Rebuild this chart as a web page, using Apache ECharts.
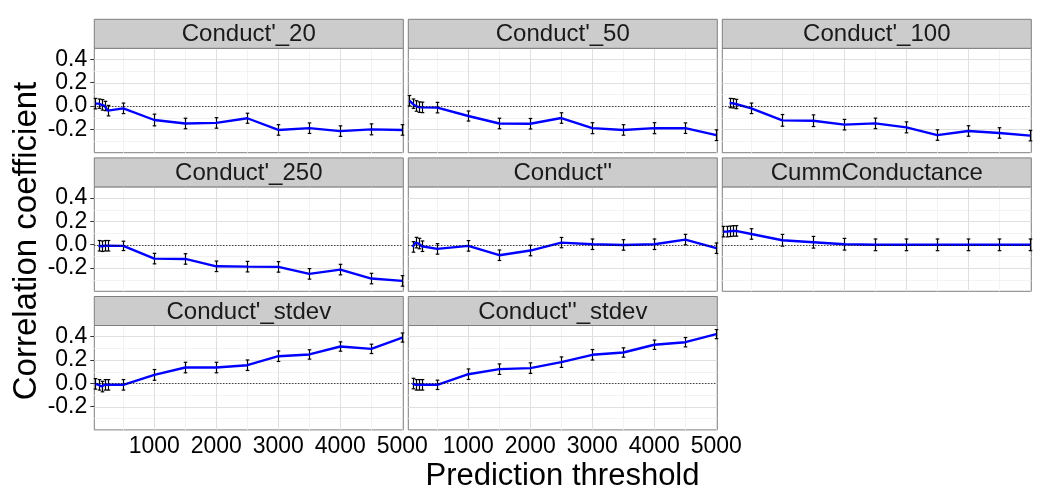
<!DOCTYPE html>
<html><head><meta charset="utf-8">
<script src="https://cdn.jsdelivr.net/npm/echarts@6/dist/echarts.min.js"></script>
<style>html,body{margin:0;padding:0;background:#fff}#c{width:1050px;height:500px}</style>
</head><body><div id="c"></div>
<script>
// ---------------- data ----------------
const thresholds = [50, 100, 150, 200, 250, 500, 1000, 1500, 2000, 2500, 3000, 3500, 4000, 4500, 5000];
const panelNames = ["Conduct'_20", "Conduct'_50", "Conduct'_100", "Conduct'_250", "Conduct''", "CummConductance", "Conduct'_stdev", "Conduct''_stdev"];

const corrC20   = [0.02, 0.02, 0.01, 0.00, -0.04, -0.02, -0.12, -0.15, -0.145, -0.105, -0.205, -0.19, -0.215, -0.20, -0.205];
const errC20    = [0.045, 0.04, 0.045, 0.04, 0.045, 0.045, 0.05, 0.045, 0.045, 0.043, 0.045, 0.045, 0.045, 0.047, 0.045];
const corrC50   = [0.045, 0.02, 0.0, -0.01, -0.012, -0.014, -0.086, -0.15, -0.152, -0.103, -0.19, -0.205, -0.19, -0.19, -0.25];
const errC50    = [0.045, 0.04, 0.045, 0.045, 0.045, 0.045, 0.043, 0.045, 0.045, 0.045, 0.047, 0.045, 0.047, 0.045, 0.046];
const corrC100  = [null, null, 0.025, 0.023, 0.017, -0.02, -0.123, -0.126, -0.16, -0.149, -0.183, -0.249, -0.214, -0.231, -0.254];
const errC100   = [null, null, 0.04, 0.04, 0.04, 0.045, 0.05, 0.05, 0.045, 0.045, 0.047, 0.045, 0.045, 0.045, 0.045];
const corrC250  = [null, -0.01, -0.014, -0.01, -0.01, -0.011, -0.12, -0.123, -0.186, -0.189, -0.191, -0.251, -0.214, -0.291, -0.311];
const errC250   = [null, 0.045, 0.045, 0.045, 0.045, 0.04, 0.045, 0.045, 0.045, 0.045, 0.045, 0.045, 0.045, 0.045, 0.045];
const corrC2    = [null, -0.02, 0.017, 0.009, -0.014, -0.037, -0.011, -0.091, -0.051, 0.017, 0.003, -0.003, 0.003, 0.043, -0.031];
const errC2     = [null, 0.045, 0.045, 0.045, 0.045, 0.045, 0.045, 0.045, 0.045, 0.044, 0.045, 0.045, 0.045, 0.045, 0.045];
const corrCumm  = [0.111, 0.111, 0.114, 0.117, 0.117, 0.091, 0.037, 0.02, 0.003, -0.002, -0.002, -0.002, -0.002, -0.002, -0.002];
const errCumm   = [0.045, 0.045, 0.045, 0.045, 0.045, 0.045, 0.05, 0.05, 0.05, 0.05, 0.05, 0.05, 0.05, 0.05, 0.05];
const corrC1sd  = [-0.006, -0.014, -0.029, -0.014, -0.014, -0.014, 0.071, 0.134, 0.134, 0.154, 0.231, 0.246, 0.314, 0.294, 0.391];
const errC1sd   = [0.045, 0.045, 0.045, 0.045, 0.045, 0.045, 0.046, 0.045, 0.045, 0.045, 0.045, 0.04, 0.04, 0.04, 0.039];
const corrC2sd  = [null, -0.003, -0.014, -0.014, -0.014, -0.014, 0.077, 0.12, 0.129, 0.18, 0.243, 0.263, 0.329, 0.351, 0.42];
const errC2sd   = [null, 0.045, 0.045, 0.045, 0.045, 0.04, 0.045, 0.045, 0.045, 0.045, 0.045, 0.04, 0.04, 0.04, 0.039];

const xTickValues = [1000, 2000, 3000, 4000, 5000];
const xMinorValues = [500, 1500, 2500, 3500, 4500];
const yTickValues = [-0.2, 0.0, 0.2, 0.4];
const yMinorValues = [-0.3, -0.1, 0.1, 0.3];
const zeroLineValue = 0;
const xRange = [32, 5016];
const yRange = [-0.40, 0.494];

const panelValues = [corrC20, corrC50, corrC100, corrC250, corrC2, corrCumm, corrC1sd, corrC2sd];
const panelErrors = [errC20, errC50, errC100, errC250, errC2, errCumm, errC1sd, errC2sd];

// ---------------- layout ----------------
const FONT = "'Liberation Sans', Arial, sans-serif";
const colLeft = [94.3, 408.3, 722.3];
const panelW = 309;
const stripTop0 = 19.3, rowStep = 138.6, stripH = 29, panelH = 104.4;

const chart = echarts.init(document.getElementById('c'), null, {renderer: 'canvas'});
const grids = [], xAxes = [], yAxes = [], series = [], graphics = [];

panelNames.forEach((name, i) => {
  const row = Math.floor(i / 3), col = i % 3;
  const left = colLeft[col];
  const sTop = stripTop0 + row * rowStep;
  const pTop = sTop + stripH;
  grids.push({left: left, top: pTop, width: panelW, height: panelH, show: true,
    borderColor: '#7f7f7f', borderWidth: 1, backgroundColor: '#ffffff', containLabel: false});
  const bottomRow = (i >= 6);
  xAxes.push({type: 'value', gridIndex: i, min: xRange[0], max: xRange[1],
    axisLine: {show: false}, splitLine: {show: false},
    axisTick: {show: bottomRow, length: 4, lineStyle: {color: '#333'}, customValues: xTickValues},
    axisLabel: {show: bottomRow, customValues: xTickValues, fontSize: 23, color: '#000', fontFamily: FONT, margin: 5,
      formatter: v => String(v)}});
  yAxes.push({type: 'value', gridIndex: i, min: yRange[0], max: yRange[1],
    axisLine: {show: false}, splitLine: {show: false},
    axisTick: {show: col === 0, length: 4, lineStyle: {color: '#333'}, customValues: yTickValues},
    axisLabel: {show: col === 0, customValues: yTickValues, fontSize: 23, color: '#000', fontFamily: FONT, margin: 7,
      formatter: v => v.toFixed(1)}});

  // strip
  graphics.push({type: 'rect', shape: {x: left, y: sTop, width: panelW, height: stripH},
    style: {fill: '#cccccc', stroke: '#7f7f7f', lineWidth: 1}, z: 10});
  graphics.push({type: 'text', x: left + panelW / 2, y: sTop + stripH / 2 + 1,
    style: {text: name, fill: '#1a1a1a', font: "24px " + FONT, textAlign: 'center', textVerticalAlign: 'middle'}, z: 11});

  // gridlines
  series.push({type: 'custom', xAxisIndex: i, yAxisIndex: i, z: 1, silent: true,
    data: [[xTickValues[0], zeroLineValue]],
    renderItem: (params, api) => {
      const cs = params.coordSys;
      const ch = [];
      const vline = (v, c) => { const px = Math.round(api.coord([v, zeroLineValue])[0]) + 0.5;
        ch.push({type: 'line', shape: {x1: px, y1: cs.y, x2: px, y2: cs.y + cs.height}, style: {stroke: c, lineWidth: 1}}); };
      const hline = (v, c) => { const py = Math.round(api.coord([xTickValues[0], v])[1]) + 0.5;
        ch.push({type: 'line', shape: {x1: cs.x, y1: py, x2: cs.x + cs.width, y2: py}, style: {stroke: c, lineWidth: 1}}); };
      xMinorValues.forEach(v => vline(v, '#f3f3f3'));
      yMinorValues.forEach(v => hline(v, '#f3f3f3'));
      xTickValues.forEach(v => vline(v, '#e0e0e0'));
      yTickValues.forEach(v => hline(v, '#e0e0e0'));
      return {type: 'group', children: ch};
    }});

  const vals = panelValues[i], errs = panelErrors[i];
  const pts = [];
  thresholds.forEach((t, k) => { if (vals[k] != null) pts.push([t, vals[k], errs[k]]); });

  // error bars
  series.push({type: 'custom', xAxisIndex: i, yAxisIndex: i, z: 2, silent: true,
    encode: {x: 0, y: 1}, data: pts,
    renderItem: (params, api) => {
      const x = api.value(0), y = api.value(1), e = api.value(2);
      const top = api.coord([x, y + e]), bot = api.coord([x, y - e]);
      const hw = 1.8;
      const cx = Math.round(top[0]) + 0.5;
      return {type: 'group', children: [
        {type: 'line', shape: {x1: cx, y1: top[1], x2: cx, y2: bot[1]}, style: {stroke: '#000', lineWidth: 1.2}},
        {type: 'line', shape: {x1: cx - hw, y1: top[1], x2: cx + hw, y2: top[1]}, style: {stroke: '#000', lineWidth: 1.2}},
        {type: 'line', shape: {x1: cx - hw, y1: bot[1], x2: cx + hw, y2: bot[1]}, style: {stroke: '#000', lineWidth: 1.2}}
      ]};
    }});

  // line
  series.push({type: 'line', xAxisIndex: i, yAxisIndex: i, z: 3, silent: true,
    data: pts.map(p => [p[0], p[1]]), symbol: 'none',
    lineStyle: {color: '#0000ff', width: 2.4}, itemStyle: {color: '#0000ff'}});

  // dotted zero line
  series.push({type: 'custom', xAxisIndex: i, yAxisIndex: i, z: 4, silent: true,
    data: [[xTickValues[0], zeroLineValue]],
    renderItem: (params, api) => {
      const cs = params.coordSys;
      const py = Math.round(api.coord([xTickValues[0], zeroLineValue])[1]) + 0.5;
      return {type: 'line', shape: {x1: cs.x, y1: py, x2: cs.x + cs.width, y2: py},
        style: {stroke: '#000', lineWidth: 1, lineDash: [1, 2]}};
    }});
});

// axis titles
graphics.push({type: 'text', x: 562.5, y: 476, style: {text: 'Prediction threshold', fill: '#000',
  font: "31px " + FONT, textAlign: 'center', textVerticalAlign: 'middle'}, z: 11});
graphics.push({type: 'text', x: 27, y: 241, rotation: Math.PI / 2, style: {text: 'Correlation coefficient', fill: '#000',
  font: "33px " + FONT, textAlign: 'center', textVerticalAlign: 'middle'}, z: 11});

chart.setOption({
  animation: false,
  backgroundColor: '#ffffff',
  grid: grids, xAxis: xAxes, yAxis: yAxes, series: series,
  graphic: {elements: graphics}
});
</script></body></html>
